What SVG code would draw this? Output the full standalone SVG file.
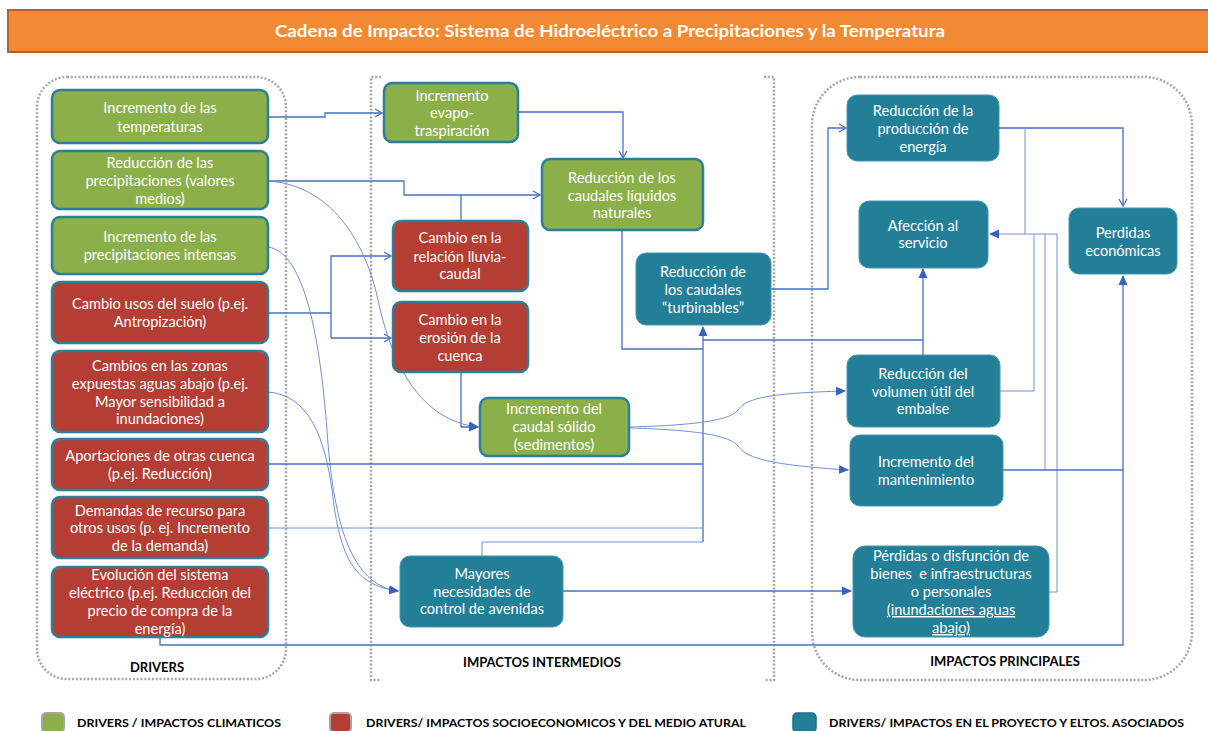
<svg xmlns="http://www.w3.org/2000/svg" width="1208" height="731" viewBox="0 0 1208 731">
<style>
.g{fill:#8BB04A;stroke:#2C7F98;stroke-width:2.5}
.r{fill:#B43E33;stroke:#2C7F98;stroke-width:2.5}
.t{fill:#237F98;stroke:#4597AE;stroke-width:1}
.nt{font-family:Lato,"Liberation Sans",sans-serif;font-size:14.6px;fill:#fff;text-anchor:middle}
.lb{font-family:Lato,"Liberation Sans",sans-serif;font-size:13px;font-weight:bold;fill:#000;text-anchor:middle}
.lg{font-family:Lato,"Liberation Sans",sans-serif;font-size:12px;font-weight:bold;fill:#000}
.c{fill:none;stroke:#4472C4;stroke-width:1.3}
.cl{fill:none;stroke:#6E90D8;stroke-width:1}
.box{fill:none;stroke:#A6A6A6;stroke-width:2.5;stroke-dasharray:2 1.8}
.u{text-decoration:underline}
</style>
<defs>
<marker id="ao" markerWidth="10" markerHeight="10" refX="8" refY="5" orient="auto" markerUnits="userSpaceOnUse"><path d="M1,1 L8,5 L1,9" fill="none" stroke="#4472C4" stroke-width="1.3"/></marker>
<marker id="af" markerWidth="10" markerHeight="10" refX="9" refY="5" orient="auto" markerUnits="userSpaceOnUse"><path d="M0,0.5 L10,5 L0,9.5 z" fill="#3A62C0"/></marker>
</defs>
<rect width="1208" height="731" fill="#fff"/>
<g id="title">
<rect x="8" y="10" width="1204" height="42" fill="#F28A33" stroke="#B5622A" stroke-width="2"/>
<text x="610" y="37" font-family="Lato,'Liberation Sans',sans-serif" font-size="17" font-weight="bold" fill="#fff" text-anchor="middle" textLength="670" lengthAdjust="spacingAndGlyphs">Cadena de Impacto: Sistema de Hidroeléctrico a Precipitaciones y la Temperatura</text>
</g>
<g id="groups">
<rect class="box" x="37" y="77" width="249" height="602" rx="30"/>
<path class="box" d="M381,77 H371 V680 H381 M764,77 H774 V680 H764"/>
<rect class="box" x="812" y="77" width="380" height="603" rx="48"/>
<text class="lb" x="157" y="672">DRIVERS</text>
<text class="lb" x="542" y="667">IMPACTOS INTERMEDIOS</text>
<text class="lb" x="1005" y="666">IMPACTOS PRINCIPALES</text>
</g>
<g id="connectors">
<path class="c" d="M268,117 H325 V113 H382" marker-end="url(#ao)"/>
<path class="c" d="M518,112 H623 V158" marker-end="url(#ao)"/>
<path class="c" d="M268,181 H404 V195 H540" marker-end="url(#ao)"/>
<path class="c" d="M461,221 V195"/>
<path class="c" d="M268,313 H331"/>
<path class="c" d="M331,338 V256 H391" marker-end="url(#ao)"/>
<path class="c" d="M331,338 H391" marker-end="url(#ao)"/>
<path class="c" d="M461,372 V427 H478" marker-end="url(#af)"/>
<path class="cl" d="M268,181 C330,185 365,240 378,300 C392,365 420,420 478,427" marker-end="url(#af)"/>
<path class="cl" d="M268,247 C305,252 320,340 327,430 C333,520 350,585 398,591" marker-end="url(#af)"/>
<path class="cl" d="M268,392 C310,395 325,440 332,490 C340,560 355,585 398,591" marker-end="url(#af)"/>
<path class="c" d="M268,464 H703"/>
<path class="cl" d="M268,528 H703"/>
<path class="cl" d="M482,556 V542 H703"/>
<path class="c" d="M703,542 V327" marker-end="url(#af)"/>
<path class="c" d="M622,230 V349 H703"/>
<path class="c" d="M703,340 H923"/>
<path class="c" d="M923,355 V269" marker-end="url(#af)"/>
<path class="c" d="M771,289 H828 V128 H846" marker-end="url(#ao)"/>
<path class="c" d="M999,128 H1123 V206" marker-end="url(#ao)"/>
<path class="cl" d="M1025,128 V234"/>
<path class="cl" d="M1000,391 H1034 V234"/>
<path class="cl" d="M1045,470 V234"/>
<path class="cl" d="M1049,592 H1057 V234 H990" marker-end="url(#af)"/>
<path class="c" d="M1003,470 H1123"/>
<path class="c" d="M160,637 V645 H1123 V276" marker-end="url(#af)"/>
<path class="cl" d="M630,427 C700,425 730,420 738,410 C746,398 770,393 845,391" marker-end="url(#af)"/>
<path class="cl" d="M630,428 C700,430 730,436 738,446 C746,458 770,465 848,470" marker-end="url(#af)"/>
<path class="c" d="M563,591 H851" marker-end="url(#af)"/>
</g>
<g id="n-temp"><rect class="g" x="52" y="90" width="216" height="53" rx="8"/><text class="nt"><tspan x="160" y="113">Incremento de las</tspan><tspan x="160" y="132">temperaturas</tspan></text></g>
<g id="n-precip"><rect class="g" x="52" y="151" width="216" height="58" rx="8"/><text class="nt"><tspan x="160" y="168">Reducción de las</tspan><tspan x="160" y="186">precipitaciones (valores</tspan><tspan x="160" y="204">medios)</tspan></text></g>
<g id="n-intensas"><rect class="g" x="52" y="217" width="216" height="57" rx="8"/><text class="nt"><tspan x="160" y="242">Incremento de las</tspan><tspan x="160" y="260">precipitaciones intensas</tspan></text></g>
<g id="n-suelo"><rect class="r" x="52" y="282" width="216" height="61" rx="8"/><text class="nt"><tspan x="160" y="309">Cambio usos del suelo (p.ej.</tspan><tspan x="160" y="327">Antropización)</tspan></text></g>
<g id="n-zonas"><rect class="r" x="52" y="351" width="216" height="81" rx="8"/><text class="nt"><tspan x="160" y="371">Cambios en las zonas</tspan><tspan x="160" y="389">expuestas aguas abajo (p.ej.</tspan><tspan x="160" y="407">Mayor sensibilidad a</tspan><tspan x="160" y="424">inundaciones)</tspan></text></g>
<g id="n-aport"><rect class="r" x="52" y="439" width="216" height="51" rx="8"/><text class="nt"><tspan x="160" y="461">Aportaciones de otras cuenca</tspan><tspan x="160" y="479">(p.ej. Reducción)</tspan></text></g>
<g id="n-demandas"><rect class="r" x="52" y="497" width="216" height="61" rx="8"/><text class="nt"><tspan x="160" y="516">Demandas de recurso para</tspan><tspan x="160" y="533">otros usos (p. ej. Incremento</tspan><tspan x="160" y="551">de la demanda)</tspan></text></g>
<g id="n-electrico"><rect class="r" x="52" y="567" width="216" height="70" rx="8"/><text class="nt"><tspan x="160" y="580">Evolución del sistema</tspan><tspan x="160" y="598">eléctrico (p.ej. Reducción del</tspan><tspan x="160" y="616">precio de compra de la</tspan><tspan x="160" y="634">energía)</tspan></text></g>
<g id="n-evapo"><rect class="g" x="384" y="83" width="134" height="59" rx="8"/><text class="nt"><tspan x="452" y="101">Incremento</tspan><tspan x="452" y="118">evapo-</tspan><tspan x="452" y="136">traspiración</tspan></text></g>
<g id="n-caudliq"><rect class="g" x="542" y="159" width="161" height="71" rx="8"/><text class="nt"><tspan x="622" y="183">Reducción de los</tspan><tspan x="622" y="201">caudales líquidos</tspan><tspan x="622" y="218">naturales</tspan></text></g>
<g id="n-lluvia"><rect class="r" x="393" y="221" width="135" height="70" rx="8"/><text class="nt"><tspan x="460" y="243">Cambio en la</tspan><tspan x="460" y="262">relación lluvia-</tspan><tspan x="460" y="279">caudal</tspan></text></g>
<g id="n-erosion"><rect class="r" x="393" y="302" width="135" height="70" rx="8"/><text class="nt"><tspan x="460" y="325">Cambio en la</tspan><tspan x="460" y="343">erosión de la</tspan><tspan x="460" y="361">cuenca</tspan></text></g>
<g id="n-solido"><rect class="g" x="480" y="398" width="149" height="58" rx="8"/><text class="nt"><tspan x="554" y="414">Incremento del</tspan><tspan x="554" y="432">caudal sólido</tspan><tspan x="554" y="450">(sedimentos)</tspan></text></g>
<g id="n-turb"><rect class="t" x="636" y="253" width="135" height="72" rx="10"/><text class="nt"><tspan x="703" y="277">Reducción de</tspan><tspan x="703" y="295">los caudales</tspan><tspan x="703" y="313">“turbinables”</tspan></text></g>
<g id="n-mayores"><rect class="t" x="400" y="556" width="163" height="71" rx="10"/><text class="nt"><tspan x="482" y="579">Mayores</tspan><tspan x="482" y="597">necesidades de</tspan><tspan x="482" y="614">control de avenidas</tspan></text></g>
<g id="n-prod"><rect class="t" x="847" y="95" width="152" height="66" rx="10"/><text class="nt"><tspan x="923" y="116">Reducción de la</tspan><tspan x="923" y="134">producción de</tspan><tspan x="923" y="152">energía</tspan></text></g>
<g id="n-afec"><rect class="t" x="859" y="201" width="129" height="67" rx="10"/><text class="nt"><tspan x="923" y="231">Afección al</tspan><tspan x="923" y="248">servicio</tspan></text></g>
<g id="n-perd"><rect class="t" x="1069" y="208" width="108" height="66" rx="10"/><text class="nt"><tspan x="1123" y="238">Perdidas</tspan><tspan x="1123" y="256">económicas</tspan></text></g>
<g id="n-vol"><rect class="t" x="847" y="355" width="153" height="72" rx="10"/><text class="nt"><tspan x="923" y="379">Reducción del</tspan><tspan x="923" y="397">volumen útil del</tspan><tspan x="923" y="414">embalse</tspan></text></g>
<g id="n-mant"><rect class="t" x="850" y="435" width="153" height="71" rx="10"/><text class="nt"><tspan x="926" y="467">Incremento del</tspan><tspan x="926" y="485">mantenimiento</tspan></text></g>
<g id="n-perdod"><rect class="t" x="853" y="546" width="196" height="91" rx="12"/><text class="nt" xml:space="preserve"><tspan x="951" y="561">Pérdidas o disfunción de</tspan><tspan x="951" y="579">bienes  e infraestructuras</tspan><tspan x="951" y="597">o personales</tspan><tspan class="u" x="951" y="615">(inundaciones aguas</tspan><tspan class="u" x="951" y="633">abajo)</tspan></text></g>
<g id="legend">
<rect x="42" y="713" width="22" height="19" rx="4" fill="#8BB04A" stroke="#A5A5A5" stroke-width="2"/>
<text class="lg" x="77" y="727" textLength="204" lengthAdjust="spacingAndGlyphs">DRIVERS / IMPACTOS CLIMATICOS</text>
<rect x="330" y="713" width="21" height="19" rx="4" fill="#B43E33" stroke="#A5A5A5" stroke-width="2"/>
<text class="lg" x="366" y="727" textLength="380" lengthAdjust="spacingAndGlyphs">DRIVERS/ IMPACTOS SOCIOECONOMICOS Y DEL MEDIO ATURAL</text>
<rect x="793" y="713" width="23" height="19" rx="4" fill="#237F98" stroke="#1F6E85" stroke-width="1.5"/>
<text class="lg" x="829" y="727" textLength="355" lengthAdjust="spacingAndGlyphs">DRIVERS/ IMPACTOS EN EL PROYECTO Y ELTOS. ASOCIADOS</text>
</g>
</svg>
